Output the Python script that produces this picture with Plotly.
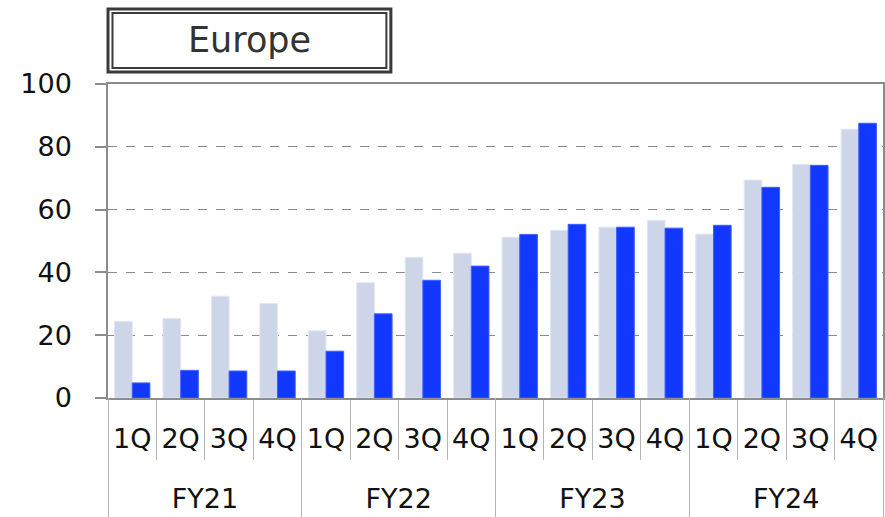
import plotly.graph_objects as go

years = ["FY21"] * 4 + ["FY22"] * 4 + ["FY23"] * 4 + ["FY24"] * 4
quarters = ["1Q", "2Q", "3Q", "4Q"] * 4
prev_values = [24.4, 25.3, 32.4, 30.1, 21.4, 36.7, 44.8, 46.1,
               51.2, 53.4, 54.4, 56.6, 52.2, 69.4, 74.4, 85.6]
curr_values = [4.8, 8.8, 8.6, 8.6, 14.9, 26.8, 37.5, 42.0,
               52.1, 55.3, 54.4, 54.1, 55.0, 67.1, 74.1, 87.5]
y_ticks = [0, 20, 40, 60, 80, 100]
title_text = "Europe"

FONT = "DejaVu Sans"
AXIS_GRAY = "#8c8c8c"
SEP_GRAY = "#b4b4b4"

# category positions on the shared x scale
pos = list(range(len(quarters)))
group_names = list(dict.fromkeys(years))
group_centers = [sum(p for p, y in zip(pos, years) if y == g) / years.count(g) for g in group_names]
quarter_bounds = [p - 0.5 for p in pos] + [pos[-1] + 0.5]
group_bounds = [min(p for p, y in zip(pos, years) if y == g) - 0.5 for g in group_names] + [pos[-1] + 0.5]
x_range = [pos[0] - 0.5, pos[-1] + 0.5]

fig = go.Figure()
fig.add_trace(go.Bar(
    x=pos, y=prev_values, name="Series 1",
    customdata=[f"{y} {q}" for y, q in zip(years, quarters)],
    marker=dict(color="#CDD5E9", line=dict(color="#E2E7F3", width=1)),
    showlegend=False,
))
fig.add_trace(go.Bar(
    x=pos, y=curr_values, name="Series 2",
    customdata=[f"{y} {q}" for y, q in zip(years, quarters)],
    marker=dict(color="#1238FF", line=dict(color="#3F5FFF", width=1)),
    showlegend=False,
))
# invisible trace to activate the group-label axis
fig.add_trace(go.Scatter(x=group_centers, y=[None] * len(group_centers),
                         xaxis="x2", yaxis="y", mode="markers",
                         showlegend=False, hoverinfo="skip"))

fig.update_layout(
    width=885, height=517,
    margin=dict(l=108, r=2, t=84, b=0, autoexpand=False),
    paper_bgcolor="white", plot_bgcolor="white",
    barmode="group", bargap=0.27, bargroupgap=0,
    font=dict(family=FONT, size=27, color="#111111"),
    yaxis=dict(
        domain=[119 / 433, 1], automargin=False,
        range=[0, 100], tickvals=y_ticks, ticks="outside", ticklen=11,
        tickcolor=AXIS_GRAY, tickwidth=1.5, ticklabelstandoff=18,
        showgrid=True, gridcolor="#8a8a8a", griddash="dash", gridwidth=1,
        showline=True, linecolor=AXIS_GRAY, linewidth=1.5, mirror=True,
        zeroline=False, tickfont=dict(size=27, family=FONT, color="#111111"),
    ),
    xaxis=dict(
        range=x_range, tickvals=pos, ticktext=quarters, ticks="",
        automargin=False,
        tickangle=0, ticklabelstandoff=16, showgrid=False, zeroline=False,
        minor=dict(tickvals=quarter_bounds, ticks="outside", ticklen=60,
                   tickcolor=SEP_GRAY, tickwidth=1, showgrid=False),
        showline=True, linecolor=AXIS_GRAY, linewidth=1.5, mirror=True,
        tickfont=dict(size=27, family=FONT, color="#111111"),
    ),
    xaxis2=dict(
        overlaying="x", anchor="free", position=0, side="bottom",
        automargin=False,
        range=x_range, tickvals=group_centers, ticktext=group_names,
        ticks="", ticklabelposition="inside", ticklabelstandoff=1,
        tickangle=0, showgrid=False, zeroline=False, showline=False,
        minor=dict(tickvals=group_bounds, ticks="inside", ticklen=119,
                   tickcolor=SEP_GRAY, tickwidth=1, showgrid=False),
        tickfont=dict(size=27, family=FONT, color="#111111"),
    ),
)

# Title box with double border
fig.add_shape(type="rect", xref="paper", yref="y domain",
              x0=0.0, x1=0.365, y0=1.038, y1=1.239,
              line=dict(color="#3a3a3a", width=3), fillcolor="white")
fig.add_shape(type="rect", xref="paper", yref="y domain",
              x0=0.0058, x1=0.3592, y0=1.051, y1=1.226,
              line=dict(color="#3a3a3a", width=2))
fig.add_annotation(text=title_text, xref="paper", yref="y domain",
                   x=0.1826, y=1.14, xanchor="center", yanchor="middle",
                   showarrow=False,
                   font=dict(family=FONT, size=35, color="#333333"))

fig.write_html("out.html", config={"displayModeBar": False},
               post_script="document.body.style.margin='0';")
